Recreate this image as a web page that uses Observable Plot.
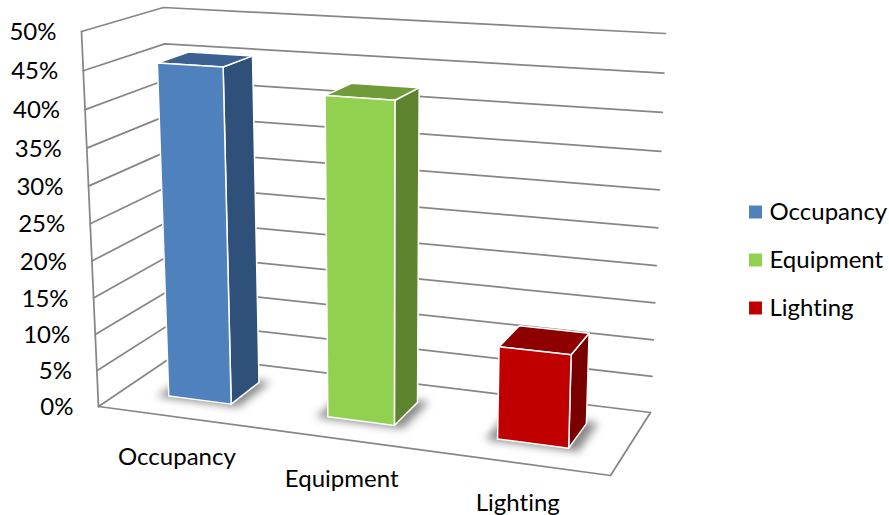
<!DOCTYPE html>
<html>
<head>
<meta charset="utf-8">
<script src="https://cdn.jsdelivr.net/npm/d3@7"></script>
<script src="https://cdn.jsdelivr.net/npm/@observablehq/plot@0.6"></script>
<style>
  html, body { margin: 0; padding: 0; background: #fff; overflow: hidden; }
  svg text { font-variant-ligatures: none; }
</style>
</head>
<body>
<div id="chart"></div>
<script>
// Share of consumption by category
const categories = ["Occupancy", "Equipment", "Lighting"];
const shares = [45.3, 42.5, 12.2];
const valueTicks = [0, 5, 10, 15, 20, 25, 30, 35, 40, 45, 50];
const frontColors = ["#4f81bd", "#92d050", "#c00000"];
const sideColors = ["#2f5078", "#5e832f", "#7a0000"];
const topColors = ["#3a6191", "#6f9c38", "#8f0000"];
const gridColor = "#868686";
const fontFamily = "Lato, 'Open Sans', sans-serif";

// Corners of the 3D box on screen: [left-front, right-front, right-back, left-back]
const floorQuad = [[98, 406], [610, 475], [650, 412], [175, 354]];
const roofQuad = [[81, 31], [623, 62], [665, 33], [163, 7]];
const valueMax = 50;
const heightPerspective = 0.95;
const barWidth = 0.4 / categories.length; // gap width of 150%
const barDepth = [0.3, 0.7];

// Homography taking the unit square (u, w) onto a screen quad
function quadMap([[x0, y0], [x1, y1], [x2, y2], [x3, y3]]) {
  const dx1 = x1 - x2, dx2 = x3 - x2, sx = x0 - x1 + x2 - x3;
  const dy1 = y1 - y2, dy2 = y3 - y2, sy = y0 - y1 + y2 - y3;
  const den = dx1 * dy2 - dx2 * dy1;
  const g = (sx * dy2 - dx2 * sy) / den;
  const h = (dx1 * sy - sx * dy1) / den;
  const a = x1 - x0 + g * x1, b = x3 - x0 + h * x3;
  const d = y1 - y0 + g * y1, e = y3 - y0 + h * y3;
  return (u, w) => {
    const q = g * u + h * w + 1;
    return [(a * u + b * w + x0) / q, (d * u + e * w + y0) / q];
  };
}
const floorMap = quadMap(floorQuad);
const roofMap = quadMap(roofQuad);

// Project (u across, value up, w into the page) to screen coordinates
function project(u, value, w) {
  const t = value / valueMax;
  const f = (heightPerspective * t) / (1 - t + heightPerspective * t);
  const [fx, fy] = floorMap(u, w);
  const [rx, ry] = roofMap(u, w);
  return [fx + f * (rx - fx), fy + f * (ry - fy)];
}

const toRow = (key, pts) => pts.map(([x, y]) => ({key, x, y}));

// Walls and floor: one polyline per tick around the left and back walls
const gridRows = valueTicks.flatMap((v) =>
  toRow(v, [project(0, v, 0), project(0, v, 1), project(1, v, 1)]));
const frameRows = [
  ...toRow("axis", [project(0, 0, 0), project(0, valueMax, 0)]),
  ...toRow("floor", [project(0, 0, 0), project(1, 0, 0), project(1, 0, 1)])
];

const barSpan = (i) => {
  const c = (i + 0.5) / categories.length;
  return [c - barWidth / 2, c + barWidth / 2];
};
const faceMarks = categories.flatMap((name, i) => {
  const [u0, u1] = barSpan(i);
  const [w0, w1] = barDepth;
  const v = shares[i];
  const padU = 0.02;
  const padW = 0.03;
  const shadow = [
    project(u0 - padU, 0, w0 - padW), project(u1 + padU, 0, w0 - padW),
    project(u1 + padU, 0, w1 + padW), project(u0 - padU, 0, w1 + padW)
  ];
  const front = [project(u0, 0, w0), project(u1, 0, w0), project(u1, v, w0), project(u0, v, w0)];
  const side = [project(u1, 0, w0), project(u1, 0, w1), project(u1, v, w1), project(u1, v, w0)];
  const roof = [project(u0, v, w0), project(u1, v, w0), project(u1, v, w1), project(u0, v, w1)];
  const face = (pts, fill) => Plot.line(toRow(name, [...pts, pts[0]]), {
    x: "x", y: "y", fill, stroke: "#fff", strokeWidth: 1.5, strokeLinejoin: "round"
  });
  return [
    Plot.line(toRow(name, shadow), {x: "x", y: "y", fill: "#555", stroke: "none", fillOpacity: 0.7, imageFilter: "blur(4px)"}),
    face(side, sideColors[i]),
    face(roof, topColors[i]),
    face(front, frontColors[i])
  ];
});

const tickRows = valueTicks.map((v) => {
  const [x, y] = project(0, v, 0);
  return {label: `${v}%`, x, y};
});
const categoryRows = categories.map((name, i) => {
  const [x, y] = project((i + 0.5) / categories.length, 0, 0);
  return {name, x, y};
});

const legendX = 755;
const legendY = (i) => 211.5 + i * 48;

const chart = Plot.plot({
  width: 889,
  height: 515,
  margin: 0,
  x: {type: "identity", axis: null},
  y: {type: "identity", axis: null},
  color: {domain: categories, range: frontColors},
  style: {background: "#fff"},
  marks: [
    Plot.line(gridRows, {x: "x", y: "y", z: "key", stroke: gridColor, strokeWidth: 1.75}),
    Plot.line(frameRows, {x: "x", y: "y", z: "key", stroke: gridColor, strokeWidth: 1.75}),
    ...faceMarks,
    Plot.text(tickRows, {x: "x", y: "y", text: "label", dx: -25, dy: 1, textAnchor: "end", fontSize: 24, fontFamily, fill: "#000"}),
    Plot.text(categoryRows, {x: "x", y: "y", text: "name", dy: 40, fontSize: 24, fontFamily, fill: "#000"}),
    Plot.dot(categories, {x: () => legendX, y: (d, i) => legendY(i), fill: (d) => d, symbol: "square", r: 7.3, stroke: "none"}),
    Plot.text(categories, {x: () => legendX + 14, y: (d, i) => legendY(i), text: (d) => d, textAnchor: "start", fontSize: 24, fontFamily, fill: "#000"})
  ]
});
document.getElementById("chart").append(chart);
</script>
</body>
</html>
